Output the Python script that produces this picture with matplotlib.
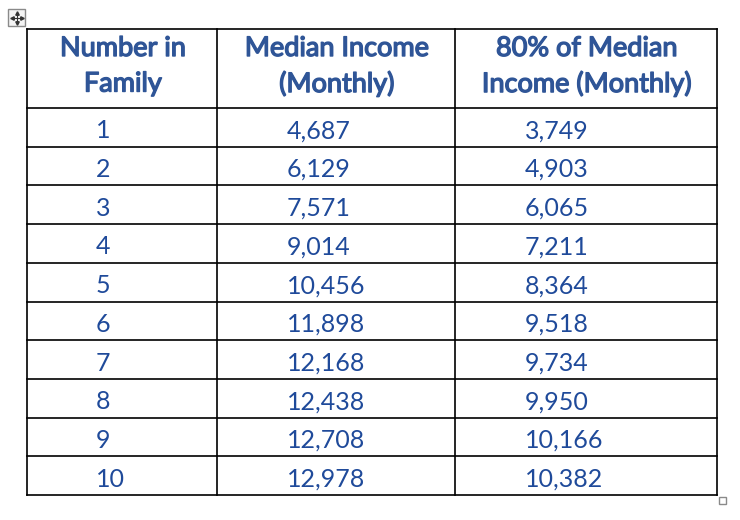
import matplotlib.pyplot as plt
import matplotlib.patches as mpatches
import matplotlib.patheffects as pe

family_size = ['1', '2', '3', '4', '5', '6', '7', '8', '9', '10']
median_income = ['4,687', '6,129', '7,571', '9,014', '10,456',
                 '11,898', '12,168', '12,438', '12,708', '12,978']
income_80 = ['3,749', '4,903', '6,065', '7,211', '8,364',
             '9,518', '9,734', '9,950', '10,166', '10,382']
headers = [['Number in', 'Family'],
           ['Median Income', '(Monthly)'],
           ['80% of Median', 'Income (Monthly)']]

head_col = '#2F5597'
num_col = '#1F4A9A'
font = ['Lato', 'DejaVu Sans']

fig = plt.figure(figsize=(7.4, 5.2), dpi=100)
ax = fig.add_axes([0, 0, 1, 1])
ax.set_xlim(0, 740)
ax.set_ylim(520, 0)
ax.axis('off')

# table grid
x_lines = [27, 217, 455, 717]
top, head_bot = 29, 108
row_h = (495 - head_bot) / len(family_size)
y_lines = [top] + [head_bot + i * row_h for i in range(len(family_size) + 1)]

for y in y_lines:
    ax.plot([x_lines[0], x_lines[-1]], [y, y], color='black', lw=1.2, solid_capstyle='projecting')
for x in x_lines:
    ax.plot([x, x], [top, y_lines[-1]], color='black', lw=1.2, solid_capstyle='projecting')

# headers (Lato bold isn't installed, so thicken regular with a stroke)
bold = [pe.withStroke(linewidth=1.0, foreground=head_col)]
for i, (l1, l2) in enumerate(headers):
    cx = (x_lines[i] + x_lines[i + 1]) / 2 + 1
    for cy, line in [(48.5, l1), (84, l2)]:
        ax.text(cx, cy, line, ha='center', va='center', fontsize=19.5,
                color=head_col, family=font, path_effects=bold)

# body
col_x = [96, 287, 525]
for r in range(len(family_size)):
    cy = head_bot + (r + 0.5) * row_h + 3.5
    for cx, col in zip(col_x, [family_size, median_income, income_80]):
        ax.text(cx, cy, col[r], ha='left', va='center', fontsize=18,
                color=num_col, family=font)

# move handle and resize handle
ax.add_patch(mpatches.Rectangle((8, 9), 17, 17, facecolor='#f4f4f4',
                                edgecolor='#8a8a8a', lw=1))
ax.plot([11.5, 21.5], [17.5, 17.5], color='#333333', lw=0.8)
ax.plot([16.5, 16.5], [12.5, 22.5], color='#333333', lw=0.8)
ax.plot([11.5], [17.5], marker='<', ms=2.5, color='#333333')
ax.plot([21.5], [17.5], marker='>', ms=2.5, color='#333333')
ax.plot([16.5], [12.5], marker='^', ms=2.5, color='#333333')
ax.plot([16.5], [22.5], marker='v', ms=2.5, color='#333333')
ax.add_patch(mpatches.Rectangle((719, 497), 7, 7, facecolor='white',
                                edgecolor='#8a8a8a', lw=1))

fig.savefig('out.png', dpi=100)
